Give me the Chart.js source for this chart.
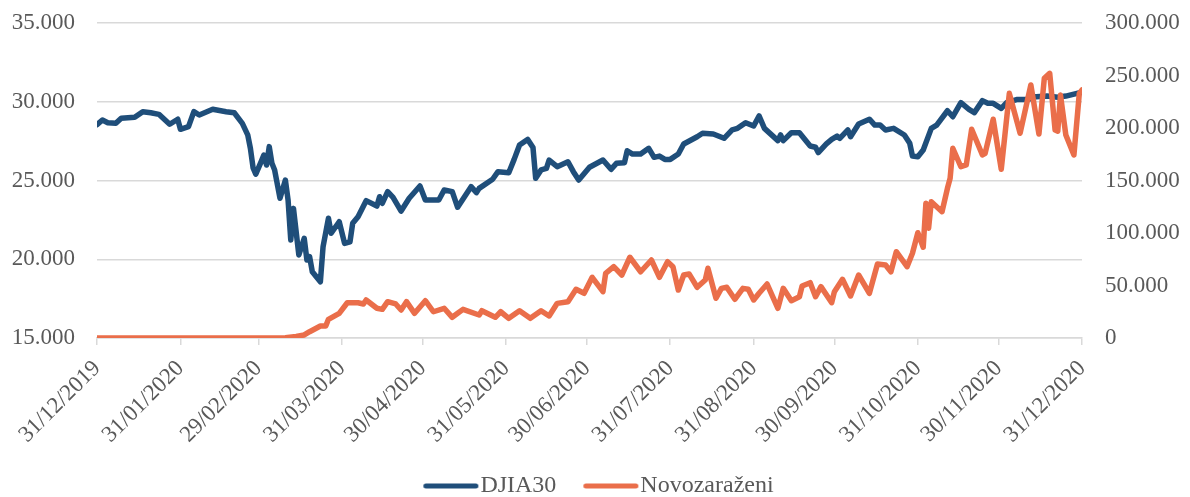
<!DOCTYPE html>
<html>
<head>
<meta charset="utf-8">
<script src="https://cdn.jsdelivr.net/npm/chart.js@4.4.1/dist/chart.umd.min.js"></script>
<style>
  html, body { margin: 0; padding: 0; background: #ffffff; overflow: hidden; }
  #wrap { position: relative; width: 1190px; height: 497px; }
</style>
</head>
<body>
<div id="wrap"><canvas id="c"></canvas></div>
<script>
// ---- Data (x = days since 31/12/2019) ----
const tickLabels = ['31/12/2019','31/01/2020','29/02/2020','31/03/2020','30/04/2020','31/05/2020',
  '30/06/2020','31/07/2020','31/08/2020','30/09/2020','31/10/2020','30/11/2020','31/12/2020'];

const djiaDays = [0,2,4,7,9,14,17,20,23,27,30,31,34,36,38,43,48,51,54,56,57,58,59,61,62,63,64,65,66,68,70,71,72,73,75,77,78,79,80,83,84,86,87,90,92,94,95,97,100,104,105,106,108,110,113,116,120,122,127,129,132,134,139,141,142,147,149,153,155,157,160,162,163,165,167,168,171,175,177,179,183,188,191,193,196,197,199,202,205,207,209,211,213,216,218,223,225,229,233,236,238,241,244,246,248,253,254,255,258,261,265,267,268,271,273,275,276,279,280,283,287,289,291,293,296,300,302,303,305,307,310,312,316,318,321,324,326,329,331,333,336,338,342,346,349,353,357,360,366];
const djiaValues = [28540,28840,28670,28630,28950,29010,29370,29300,29200,28570,28890,28250,28420,29370,29160,29520,29370,29300,28630,27900,27040,25800,25400,26200,26620,25980,27150,26090,25670,23870,25030,23760,21220,23230,20270,21330,19950,20160,19210,18570,20800,22600,21650,22380,21010,21110,22280,22700,23720,23380,23970,23550,24290,23930,23060,23870,24650,23760,23760,24400,24290,23300,24610,24230,24500,25080,25560,25490,26340,27250,27610,27100,25140,25670,25770,26300,25880,26190,25560,25030,25840,26300,25710,26090,26130,26890,26680,26680,27040,26470,26550,26340,26340,26680,27320,27780,28000,27950,27680,28210,28310,28670,28460,29100,28310,27530,27890,27530,28030,28030,27190,27110,26770,27320,27610,27820,27680,28210,27780,28590,28890,28520,28520,28210,28310,27890,27360,26550,26510,26940,28310,28520,29430,29050,29940,29520,29310,30070,29900,29900,29580,29940,30150,30150,30320,30360,30280,30360,30610];

const casesDays = [0,60,70,74,77,79,83,85,86,90,93,97,99,100,104,106,108,111,113,115,118,122,125,129,132,134,136,142,143,148,150,153,157,161,165,168,171,175,178,181,184,188,189,192,195,198,202,206,209,212,214,216,218,220,223,226,227,230,232,234,237,240,242,244,246,249,253,255,258,261,262,265,267,269,273,274,277,280,283,287,290,293,295,297,301,303,305,307,308,309,310,314,316,317,318,321,323,325,329,330,333,336,339,343,347,350,352,354,356,357,358,360,363,365,366];
const casesValues = [0,0,300,1500,2900,6000,11400,11400,17800,23500,33600,33600,32400,36200,28300,27300,34600,32400,26700,34600,23500,35500,25000,28300,19700,23500,27300,21900,26000,19700,25000,18700,26000,18700,26000,21000,33000,34600,46400,42600,57800,44100,61600,67900,60000,76900,63100,74300,57800,72700,67900,45700,60000,61000,48300,55200,66400,37800,47300,48300,36900,47300,46400,36200,42600,51400,28300,47300,35500,39300,49500,52700,39300,48900,33600,44100,55900,40000,60000,42600,70500,69500,63100,82200,67900,80700,100300,86400,128300,104500,129800,120300,142600,152100,180700,163100,164800,198800,174300,175900,208300,160700,233000,195000,241000,194300,247300,252100,198100,197000,231400,193300,174300,233000,236200];

const seriesNames = ['DJIA30', 'Novozaraženi'];
const seriesColors = ['#1F4E7A', '#EA6E4A'];

// ---- helpers ----
function dayOf(label) {
  const [d, m, y] = label.split('/').map(Number);
  return Math.round((Date.UTC(y, m - 1, d) - Date.UTC(2019, 11, 31)) / 86400000);
}
const tickDays = tickLabels.map(dayOf);
const labelByDay = {};
tickDays.forEach((d, i) => { labelByDay[d] = tickLabels[i]; });

function fmt(v) {
  return String(Math.round(v)).replace(/\B(?=(\d{3})+(?!\d))/g, '.');
}
function legendLine(color) {
  const c = document.createElement('canvas');
  c.width = 86; c.height = 8;
  const g = c.getContext('2d');
  g.strokeStyle = color; g.lineWidth = 5; g.lineCap = 'round';
  g.beginPath(); g.moveTo(31.5, 4); g.lineTo(81.5, 4); g.stroke();
  return c;
}
function fitY(width) {
  return (s) => { s.width = width; s.paddingTop = 10; s.paddingBottom = 10; };
}

const FONT = 'Liberation Serif';
const TXT = '#595959';
const GRID = '#d9d9d9';

new Chart(document.getElementById('c'), {
  type: 'line',
  data: {
    datasets: [
      {
        label: seriesNames[0],
        data: djiaDays.map((d, i) => ({ x: d, y: djiaValues[i] })),
        yAxisID: 'y',
        borderColor: seriesColors[0],
        backgroundColor: seriesColors[0],
        pointStyle: legendLine(seriesColors[0]),
        order: 2
      },
      {
        label: seriesNames[1],
        data: casesDays.map((d, i) => ({ x: d, y: casesValues[i] })),
        yAxisID: 'y1',
        borderColor: seriesColors[1],
        backgroundColor: seriesColors[1],
        pointStyle: legendLine(seriesColors[1]),
        order: 1
      }
    ]
  },
  options: {
    responsive: true,
    maintainAspectRatio: false,
    animation: false,
    devicePixelRatio: 1,
    layout: { padding: { left: 0, right: 10, top: 23, bottom: -11 } },
    elements: {
      line: { borderWidth: 5.5, tension: 0, borderJoinStyle: 'round', borderCapStyle: 'round', fill: false },
      point: { radius: 0, hoverRadius: 0 }
    },
    plugins: {
      tooltip: { enabled: false },
      legend: {
        position: 'bottom',
        labels: {
          usePointStyle: true,
          pointStyleWidth: 62,
          padding: 10,
          color: TXT,
          font: { family: FONT, size: 24 },
          sort: (a, b) => a.datasetIndex - b.datasetIndex
        }
      }
    },
    scales: {
      x: {
        type: 'linear',
        min: tickDays[0],
        max: tickDays[tickDays.length - 1],
        afterBuildTicks: (s) => { s.ticks = tickDays.map(v => ({ value: v })); },
        afterFit: (s) => { s.height = 126; },
        grid: { drawOnChartArea: false, drawTicks: true, tickLength: 7, color: GRID, lineWidth: 1.5 },
        border: { display: true, color: GRID, width: 1.5 },
        ticks: {
          autoSkip: false, maxRotation: 45, minRotation: 45, padding: 10,
          color: TXT, font: { family: FONT, size: 23 },
          callback: (v) => labelByDay[v] || ''
        }
      },
      y: {
        position: 'left',
        min: 15000, max: 35000,
        afterFit: fitY(97),
        grid: { drawTicks: false, color: GRID, lineWidth: 1.5 },
        border: { display: false },
        ticks: { stepSize: 5000, padding: 22, color: TXT, font: { family: FONT, size: 23 }, callback: (v) => fmt(v) }
      },
      y1: {
        position: 'right',
        min: 0, max: 300000,
        afterFit: fitY(98),
        grid: { display: false, drawTicks: false },
        border: { display: false },
        ticks: { stepSize: 50000, padding: 23, color: TXT, font: { family: FONT, size: 23 }, callback: (v) => fmt(v) }
      }
    }
  }
});
</script>
</body>
</html>
